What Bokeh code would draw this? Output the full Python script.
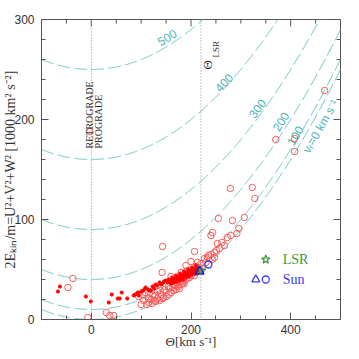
import numpy as np
from bokeh.plotting import figure
from bokeh.models import FixedTicker, Label, Span
from bokeh.core.properties import value
from bokeh.embed import file_html
from bokeh.resources import INLINE

# ---- data -----------------------------------------------------------
v_levels = [500, 400, 300, 200, 100, 0]          # km/s, iso-velocity curves
curve_label_text = ["500", "400", "300", "200", "100"]

filled_theta = [-67, -63, -11, -1, 35, 41, 53, 57, 61, 72, 85, 88, 93, 95, 100, 104,
                108, 109, 114, 117, 119, 123, 126, 129, 132, 137, 140, 143, 146, 149,
                153, 155, 157, 160, 160, 162, 163, 165, 166, 168, 170, 170, 172, 172,
                175, 177, 178, 178, 179, 181, 183, 184, 185, 186, 187, 189, 190, 191,
                193, 194, 195, 196, 197, 199, 201, 202, 202, 203, 205, 207, 208, 209,
                210, 211, 213, 214]
filled_E = [28, 33, 23, 18, 17, 25, 21, 21, 27, 21, 24, 25, 27, 24, 28, 29,
            31, 32, 30, 29, 29, 33, 31, 35, 34, 37, 35, 36, 38, 39,
            37, 40, 39, 38, 36, 42, 40, 39, 37, 41, 40, 44, 42, 38,
            41, 43, 39, 46, 42, 44, 43, 40, 45, 48, 44, 46, 42, 45,
            47, 50, 46, 43, 48, 47, 49, 45, 52, 48, 50, 49, 46, 51,
            54, 50, 52, 48]

open_theta = [-47, -37, -7, -3, 30, 37, 45, 95, 100, 103, 105, 108, 111, 115, 115, 118,
              120, 122, 123, 127, 128, 129, 133, 133, 137, 138, 140, 142, 143, 143, 145,
              147, 150, 151, 155, 156, 157, 160, 160, 163, 165, 165, 169, 170, 175, 177,
              177, 180, 180, 183, 183, 185, 186, 190, 190, 193, 195, 197, 200, 200, 207,
              207, 210, 210, 213, 216, 220, 223, 227, 230, 233, 235, 240, 240, 243, 243,
              247, 247, 251, 253, 255, 257, 262, 267, 273, 279, 280, 283, 292, 296, 307,
              323, 328, 370, 408, 408, 468]
open_E = [32, 41, 2, 188, 7, 4, 4, 23, 15, 25, 19, 27, 15, 17, 21, 27,
          20, 16, 24, 19, 24, 18, 21, 28, 19, 29, 25, 47, 21, 73, 22,
          30, 27, 23, 33, 25, 31, 27, 43, 32, 29, 35, 34, 30, 33, 37,
          31, 35, 47, 38, 36, 41, 36, 40, 54, 49, 45, 42, 44, 58, 44,
          68, 47, 53, 57, 52, 56, 51, 61, 57, 62, 64, 65, 84, 60, 87,
          62, 67, 69, 76, 101, 71, 77, 74, 82, 131, 84, 99, 86, 91, 102,
          132, 121, 180, 181, 168, 229]

lsr_theta, lsr_E = [220], [49]
sun_tri_theta, sun_tri_E = [217], [48]
sun_circ_theta, sun_circ_E = [235], [55]

x_major = [0, 200, 400]
x_minor = list(range(-100, 501, 50))
y_major = [0, 100, 200, 300]
y_minor = list(range(0, 301, 20))

x_title = "Θ[km s⁻¹]"
y_title = "2Eₖᵢₙ/m=U²+V²+W² [1000 km² s⁻²]"

# ---- styles ---------------------------------------------------------
TEAL = "#62c3c3"
TEAL_TXT = "#4fb5b5"
RED = "#ff0000"
RED_OPEN = "#ff5a5a"
GREEN = "#3a9a3a"
BLUE = "#3a3aff"
AX = "#555555"
TXT = "#333333"
SERIF = "Liberation Serif"
SANS = "Liberation Sans"

X0, X1, Y0, Y1 = -100, 500, 0, 300
p = figure(width=351, height=351, x_range=(X0, X1), y_range=(Y0, Y1),
           output_backend="svg", toolbar_location=None,
           min_border_left=40, min_border_right=11, min_border_top=19, min_border_bottom=32)
p.grid.visible = False
p.outline_line_color = AX
p.outline_line_width = 1
p.background_fill_color = "white"
p.border_fill_color = "white"

def style_axis(ax, major, minor):
    ax.ticker = FixedTicker(ticks=major, minor_ticks=minor)
    ax.axis_line_color = AX
    ax.major_tick_line_color = AX
    ax.minor_tick_line_color = AX
    ax.major_tick_in = 7
    ax.major_tick_out = 0
    ax.minor_tick_in = 4
    ax.minor_tick_out = 0
    ax.major_label_text_font = SANS
    ax.major_label_text_font_size = "12px"
    ax.major_label_text_color = TXT
    ax.axis_label_text_font = SERIF
    ax.axis_label_text_font_style = "normal"
    ax.axis_label_text_color = TXT

xa = p.xaxis[0]
style_axis(xa, x_major, x_minor)
xa.major_label_standoff = 5
xa.axis_label = x_title
xa.axis_label_text_font_size = "13px"
xa.axis_label_standoff = -3

ya = p.yaxis[0]
style_axis(ya, y_major, y_minor)
ya.major_label_standoff = 7
ya.axis_label = y_title
ya.axis_label_text_font_size = "14px"
ya.axis_label_standoff = -7

# mirrored ticks on top and right frame edges
px_x = (X1 - X0) / 300.0
px_y = (Y1 - Y0) / 300.0
x_minor_only = [t for t in x_minor if t not in x_major and X0 < t < X1]
y_minor_only = [t for t in y_minor if t not in y_major and Y0 < t < Y1]
x_major_in = [t for t in x_major if X0 < t < X1]
y_major_in = [t for t in y_major if Y0 < t < Y1]
p.segment(x0=x_minor_only, y0=[Y1] * len(x_minor_only), x1=x_minor_only,
          y1=[Y1 - 4 * px_y] * len(x_minor_only), line_color=AX, line_width=1)
p.segment(x0=x_major_in, y0=[Y1] * len(x_major_in), x1=x_major_in,
          y1=[Y1 - 7 * px_y] * len(x_major_in), line_color=AX, line_width=1)
p.segment(x0=[X1] * len(y_minor_only), y0=y_minor_only, x1=[X1 - 4 * px_x] * len(y_minor_only),
          y1=y_minor_only, line_color=AX, line_width=1)
p.segment(x0=[X1] * len(y_major_in), y0=y_major_in, x1=[X1 - 7 * px_x] * len(y_major_in),
          y1=y_major_in, line_color=AX, line_width=1)

# iso-velocity curves: 2E/m = Theta^2 + v^2
theta_grid = np.linspace(X0, X1, 601)
for v in v_levels:
    p.line(theta_grid, (theta_grid ** 2 + v ** 2) / 1000.0,
           line_color=TEAL, line_width=1, line_dash="13 4")

# vertical dotted lines
for loc in [0, 220]:
    p.add_layout(Span(location=loc, dimension="height", line_color="#888888",
                      line_width=1, line_dash="1 2"))

# curve labels (rotated along curve)
lab_theta = np.array([152, 266, 333, 380, 409])
lab_E = [282, 237, 211, 198, 184]
lab_angle = np.arctan((2 * lab_theta / 1000.0) * px_x / px_y)
p.text(x=list(lab_theta), y=lab_E, text=curve_label_text, angle=list(lab_angle),
       text_align="center", text_baseline="middle", text_font=value(SANS),
       text_font_size="12px", text_color=TEAL_TXT)
vr_angle = float(np.arctan((2 * 430 / 1000.0) * px_x / px_y))
p.text(x=[460], y=[193], text=["vᵣ=0 km s⁻¹"], angle=[vr_angle],
       text_align="center", text_baseline="middle", text_font=value(SANS),
       text_font_size="12px", text_color=TEAL_TXT)

# data points
p.scatter(open_theta, open_E, marker="circle", size=6.5, fill_color=None,
          line_color=RED_OPEN, line_width=1)
p.scatter(filled_theta, filled_E, marker="circle", size=3.2, fill_color=RED,
          line_color=RED)
p.scatter(lsr_theta, lsr_E, marker="star", size=9, fill_color=None,
          line_color=GREEN, line_width=1.2)
p.scatter(sun_tri_theta, sun_tri_E, marker="triangle", size=9, fill_color=None,
          line_color="#2020c0", line_width=1.5)
p.scatter(sun_circ_theta, sun_circ_E, marker="circle", size=7, fill_color=None,
          line_color=BLUE, line_width=1.3)

# legend
p.scatter([350], [60], marker="star", size=9, fill_color=None, line_color=GREEN, line_width=1.2)
p.scatter([330], [40], marker="triangle", size=8, fill_color=None, line_color=BLUE, line_width=1.3)
p.scatter([350], [40], marker="circle", size=7, fill_color=None, line_color=BLUE, line_width=1.3)
p.add_layout(Label(x=384, y=60, text="LSR", text_align="left", text_baseline="middle",
                   text_font=SERIF, text_font_size="14px", text_color=GREEN))
p.add_layout(Label(x=384, y=40, text="Sun", text_align="left", text_baseline="middle",
                   text_font=SERIF, text_font_size="14px", text_color=BLUE))

# annotations
p.add_layout(Label(x=-4, y=171, text="RETROGRADE", angle=np.pi / 2, text_align="left",
                   text_baseline="alphabetic", text_font=SERIF, text_font_size="10px",
                   text_color=TXT))
p.add_layout(Label(x=4, y=171, text="PROGRADE", angle=np.pi / 2, text_align="left",
                   text_baseline="top", text_font=SERIF, text_font_size="10px",
                   text_color=TXT))
p.add_layout(Label(x=234, y=250, text="Θ", angle=np.pi / 2, text_align="left",
                   text_baseline="alphabetic", text_font=SERIF, text_font_size="13px",
                   text_color=TXT))
p.add_layout(Label(x=250, y=262, text="LSR", angle=np.pi / 2, text_align="left",
                   text_baseline="alphabetic", text_font=SERIF, text_font_size="9px",
                   text_color=TXT))

open("out.html", "w").write(file_html(p, INLINE))
